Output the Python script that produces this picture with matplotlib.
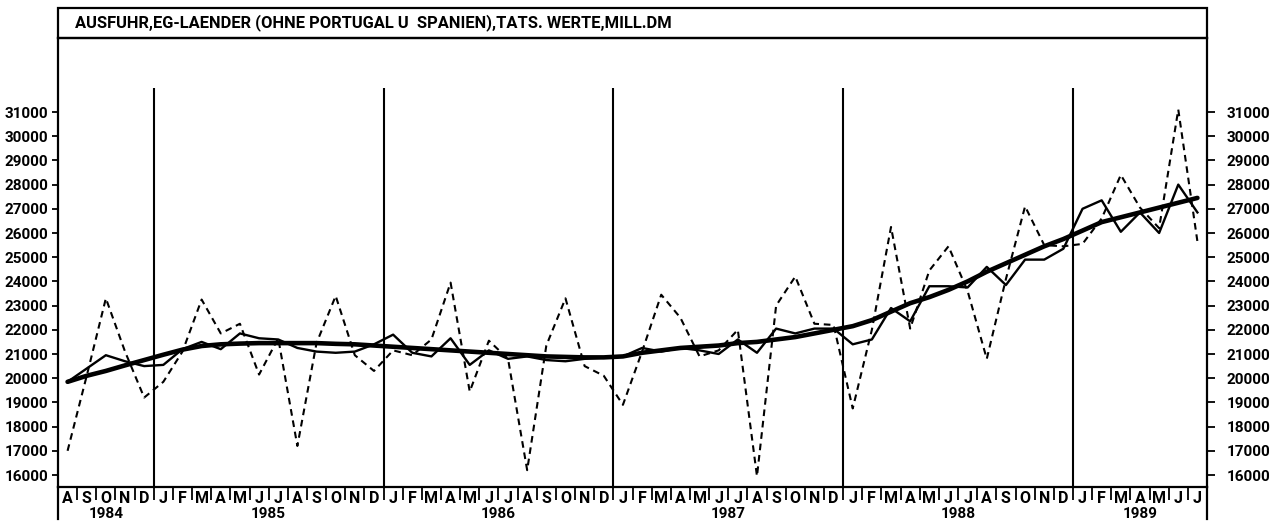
import matplotlib
matplotlib.use('Agg')
import matplotlib.pyplot as plt
from matplotlib.lines import Line2D
from matplotlib.patches import Rectangle
import matplotlib.transforms as mtransforms

# ---------------- data ----------------
months = ['A', 'S', 'O', 'N', 'D'] + ['J', 'F', 'M', 'A', 'M', 'J', 'J', 'A', 'S', 'O', 'N', 'D'] * 4 \
         + ['J', 'F', 'M', 'A', 'M', 'J', 'J']
years = ['1984', '1985', '1986', '1987', '1988', '1989']
months_per_year = [5, 12, 12, 12, 12, 7]
yticks = list(range(16000, 31001, 1000))

title = "AUSFUHR,EG-LAENDER (OHNE PORTUGAL U  SPANIEN),TATS. WERTE,MILL.DM"

# actual values (dashed)
actual = [17000, 20100, 23300, 21100, 19200,
          19850, 21100, 23250, 21850, 22250, 20150, 21650, 17200, 21450, 23400, 20950, 20300,
          21150, 20950, 21600, 23950, 19450, 21550, 20800, 16200, 21350, 23300, 20500, 20100,
          18900, 21100, 23450, 22500, 20900, 21150, 22000, 15950, 23000, 24200, 22250, 22200,
          18750, 22000, 26250, 22050, 24450, 25450, 23600, 20800, 24100, 27100, 25500, 25450,
          25550, 26600, 28400, 27050, 26200, 31100, 25650]

# seasonally adjusted values (thin solid)
adjusted = [19850, 20400, 20950, 20700, 20500,
            20550, 21200, 21500, 21200, 21850, 21650, 21600, 21250, 21100, 21050, 21100, 21400,
            21800, 21050, 20900, 21650, 20550, 21150, 20800, 20900, 20750, 20700, 20800, 20850,
            20900, 21250, 21100, 21250, 21150, 21000, 21600, 21050, 22050, 21850, 22050, 22050,
            21400, 21600, 22900, 22350, 23800, 23800, 23750, 24600, 23850, 24900, 24900, 25350,
            27000, 27350, 26050, 26850, 26000, 28000, 26850]

# trend (thick solid)
trend = [19850, 20100, 20300, 20530, 20750,
         20970, 21180, 21330, 21400, 21430, 21450, 21450, 21450, 21450, 21420, 21400, 21350,
         21300, 21250, 21200, 21150, 21100, 21050, 21000, 20950, 20900, 20880, 20860, 20860,
         20900, 21050, 21150, 21250, 21300, 21350, 21450, 21500, 21600, 21700, 21850, 22000,
         22150, 22400, 22750, 23100, 23350, 23650, 24000, 24400, 24750, 25100, 25450, 25750,
         26100, 26450, 26650, 26850, 27050, 27250, 27450]

# ---------------- layout ----------------
W, H = 1280, 524
L, R, T, B = 58, 1207, 38, 487
BOX_TOP = 8
EXT_BOTTOM = 519
PX_PER_1000 = 24.2
Y16 = 475  # pixel row of 16000

FONT = ['Roboto', 'DejaVu Sans']
plt.rcParams['font.family'] = FONT
FS = 11
FS_MONTH = 11.5
FS_TITLE = 11.9

fig = plt.figure(figsize=(W / 100, H / 100), dpi=100)
fig.patch.set_facecolor('white')
ax = fig.add_axes([L / W, 1 - B / H, (R - L) / W, (B - T) / H])

n = len(months)
x = list(range(n))
ax.set_xlim(-0.5, n - 0.5)
ylo = 16000 - (B - Y16) / PX_PER_1000 * 1000
yhi = 16000 + (Y16 - T) / PX_PER_1000 * 1000
ax.set_ylim(ylo, yhi)

for s in ax.spines.values():
    s.set_linewidth(1.6)
    s.set_color('black')

# year separators
sep_top = 16000 + (Y16 - 88) / PX_PER_1000 * 1000
cum = 0
for c in months_per_year[:-1]:
    cum += c
    ax.vlines(cum - 0.5, ylo, sep_top, color='black', lw=1.5)

# series
ax.plot(x, actual, color='black', lw=1.5, linestyle=(0, (3.2, 2.3)))
ax.plot(x, adjusted, color='black', lw=1.7)
ax.plot(x, trend, color='black', lw=3.3, solid_capstyle='round')

# y ticks left
ax.set_yticks(yticks)
ax.set_yticklabels([str(v) for v in yticks], fontsize=FS, fontweight='bold', family=FONT)
ax.tick_params(axis='y', which='major', direction='out', length=4, width=1.3, pad=3, left=True, right=False)

# y ticks right
ax2 = ax.twinx()
ax2.set_ylim(ylo, yhi)
ax2.set_yticks(yticks)
ax2.set_yticklabels([str(v) for v in yticks], fontsize=FS, fontweight='bold', family=FONT)
ax2.tick_params(axis='y', which='major', direction='out', length=6, width=1.3, pad=8)
for s in ax2.spines.values():
    s.set_visible(False)

# x ticks: separators at month boundaries
ax.set_xticks([i - 0.5 for i in range(1, n)])
ax.set_xticklabels([])
ax.tick_params(axis='x', which='major', direction='out', length=9, width=1.3)

trans = mtransforms.blended_transform_factory(ax.transData, ax.transAxes)
for i, m in enumerate(months):
    ax.annotate(m, xy=(i, 0), xycoords=trans, xytext=(0, -8), textcoords='offset points',
                ha='center', va='center', fontsize=FS_MONTH, fontweight='bold', family=FONT,
                annotation_clip=False)
start = 0
for yname, c in zip(years, months_per_year):
    cx = start + (c - 1) / 2.0
    ax.annotate(yname, xy=(cx, 0), xycoords=trans, xytext=(0, -19.5), textcoords='offset points',
                ha='center', va='center', fontsize=FS, fontweight='bold', family=FONT,
                annotation_clip=False)
    start += c

# title box and frame extensions (figure pixel coords)
def fx(px):
    return px / W

def fy(py):
    return 1 - py / H

fig.add_artist(Rectangle((fx(L), fy(T)), fx(R) - fx(L), fy(BOX_TOP) - fy(T),
                         transform=fig.transFigure, fill=False, lw=1.6, edgecolor='black'))
fig.add_artist(Line2D([fx(L), fx(L)], [fy(B), fy(EXT_BOTTOM)], transform=fig.transFigure,
                      color='black', lw=1.6))
fig.add_artist(Line2D([fx(R), fx(R)], [fy(B), fy(EXT_BOTTOM)], transform=fig.transFigure,
                      color='black', lw=1.6))
fig.text(fx(75), fy(23), title, ha='left', va='center', fontsize=FS_TITLE, fontweight='bold',
         family=FONT)

fig.savefig('out.png', dpi=100, facecolor='white')
